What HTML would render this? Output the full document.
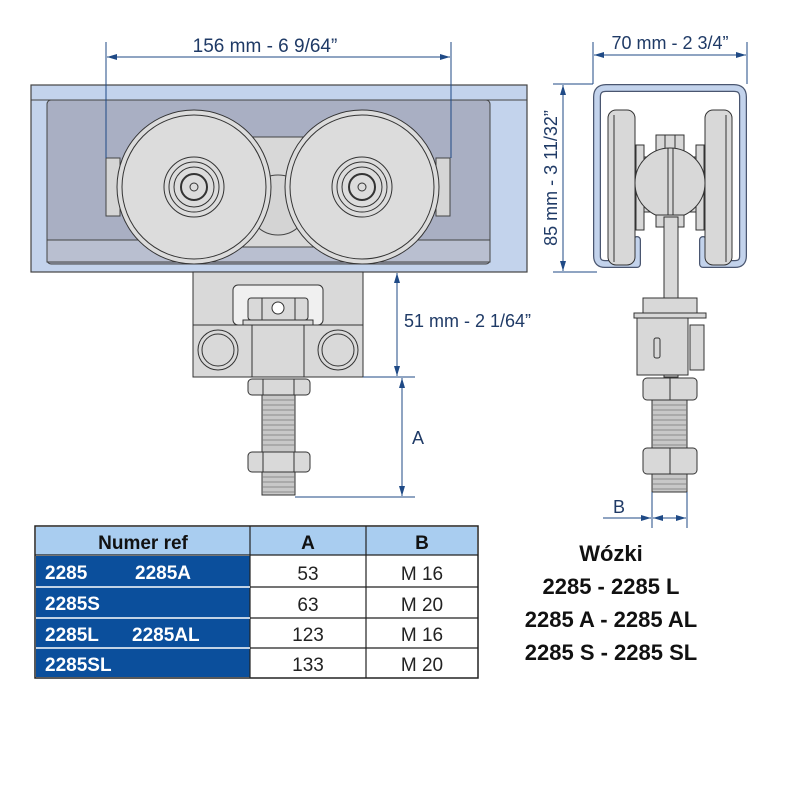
<!DOCTYPE html>
<html><head><meta charset="utf-8"><style>
html,body{margin:0;padding:0;background:#fff;}
svg{display:block;}
</style></head><body>
<svg width="800" height="800" viewBox="0 0 800 800" xmlns="http://www.w3.org/2000/svg" font-family="Liberation Sans, sans-serif">
<defs>
<marker id="ar" viewBox="0 0 10 6" refX="10" refY="3" markerWidth="10" markerHeight="6" orient="auto-start-reverse" markerUnits="userSpaceOnUse"><path d="M0,0 L10,3 L0,6 z" fill="#1f4a86"/></marker>
</defs>
<!-- LEFT VIEW -->
<rect x="31" y="85" width="496" height="187" fill="#c3d3ec" stroke="#444" stroke-width="1.2"/>
<line x1="31" y1="100" x2="527" y2="100" stroke="#444"/>
<rect x="47" y="100" width="443" height="164" rx="4" fill="#a9afc3" stroke="#444"/>
<rect x="47" y="240" width="443" height="22" fill="#b9bfd0" stroke="#444"/>
<rect x="230" y="137" width="100" height="110" fill="#d8d8d8" stroke="#444"/>
<circle cx="278" cy="205" r="30" fill="#d4d4d4" stroke="#444"/>
<rect x="106" y="158" width="14" height="58" fill="#d5d5d5" stroke="#444"/>
<rect x="436" y="158" width="14" height="58" fill="#d5d5d5" stroke="#444"/>
<g stroke="#333" fill="#dcdcdc">
<circle cx="194" cy="187" r="77"/><circle cx="194" cy="187" r="72" fill="none"/>
<circle cx="194" cy="187" r="30" fill="none"/><circle cx="194" cy="187" r="25" fill="none"/><circle cx="194" cy="187" r="20" fill="none"/><circle cx="194" cy="187" r="13" stroke-width="2"/><circle cx="194" cy="187" r="4"/>
<circle cx="362" cy="187" r="77"/><circle cx="362" cy="187" r="72" fill="none"/>
<circle cx="362" cy="187" r="30" fill="none"/><circle cx="362" cy="187" r="25" fill="none"/><circle cx="362" cy="187" r="20" fill="none"/><circle cx="362" cy="187" r="13" stroke-width="2"/><circle cx="362" cy="187" r="4"/>
</g>
<g stroke="#333" fill="#d9d9d9">
<rect x="193" y="272" width="170" height="105"/>
<rect x="233" y="285" width="90" height="40" rx="5" fill="#f0f0f0"/>
<rect x="248" y="298" width="60" height="22" rx="3"/>
<line x1="262" y1="298" x2="262" y2="320"/><line x1="295" y1="298" x2="295" y2="320"/>
<circle cx="278" cy="308" r="6" fill="#fff"/>
<rect x="243" y="320" width="70" height="5"/>
<rect x="193" y="325" width="170" height="52"/>
<rect x="252" y="325" width="52" height="52"/>
<circle cx="218" cy="350" r="20"/><circle cx="218" cy="350" r="16" fill="none"/>
<circle cx="338" cy="350" r="20"/><circle cx="338" cy="350" r="16" fill="none"/>
<rect x="262" y="395" width="33" height="100" fill="#c8c8c8"/>
<rect x="248" y="379" width="62" height="16" rx="4"/>
<line x1="263" y1="379" x2="263" y2="395"/><line x1="294" y1="379" x2="294" y2="395"/>
<rect x="248" y="452" width="62" height="20" rx="4"/>
<line x1="263" y1="452" x2="263" y2="472"/><line x1="294" y1="452" x2="294" y2="472"/>
</g>
<g stroke="#777" stroke-width="0.7">
<path d="M262 400h33M262 405h33M262 410h33M262 415h33M262 420h33M262 425h33M262 430h33M262 435h33M262 440h33M262 445h33M262 477h33M262 482h33M262 487h33M262 492h33"/>
</g>
<!-- left dims -->
<g stroke="#1f4a86" stroke-width="1" fill="none">
<line x1="106" y1="42" x2="106" y2="158"/><line x1="451" y1="42" x2="451" y2="158"/>
<line x1="107" y1="57" x2="450" y2="57" marker-start="url(#ar)" marker-end="url(#ar)"/>
<line x1="397" y1="273" x2="397" y2="376" marker-start="url(#ar)" marker-end="url(#ar)"/>
<line x1="363" y1="377" x2="415" y2="377"/>
<line x1="402" y1="378" x2="402" y2="496" marker-start="url(#ar)" marker-end="url(#ar)"/>
<line x1="295" y1="497" x2="415" y2="497"/>
</g>
<g fill="#1f3a66" font-size="19">
<text x="265" y="52" text-anchor="middle">156 mm - 6 9/64”</text>
<text x="404" y="327" font-size="18">51 mm - 2 1/64”</text>
<text x="412" y="444" font-size="18">A</text>
</g>
<!-- RIGHT VIEW -->
<g fill="none" stroke-linejoin="round" stroke-linecap="round">
<path d="M637 240 V264 H605 Q597 264 597 256 V97 Q597 88 606 88 H734 Q743 88 743 97 V256 Q743 264 735 264 H703 V240" stroke="#4a5670" stroke-width="8"/>
<path d="M637 240 V264 H605 Q597 264 597 256 V97 Q597 88 606 88 H734 Q743 88 743 97 V256 Q743 264 735 264 H703 V240" stroke="#c3d3ec" stroke-width="5.5"/>
</g>
<g stroke="#333" fill="#d8d8d8">
<rect x="608" y="110" width="27" height="155" rx="8"/>
<line x1="614" y1="115" x2="614" y2="262"/>
<rect x="705" y="110" width="27" height="155" rx="8"/>
<line x1="726" y1="115" x2="726" y2="262"/>
<rect x="636" y="145" width="8" height="85"/><rect x="696" y="145" width="8" height="85"/>
<rect x="644" y="157" width="52" height="55"/>
<rect x="656" y="135" width="28" height="25"/>
<line x1="665" y1="135" x2="665" y2="160"/><line x1="675" y1="135" x2="675" y2="160"/>
<circle cx="670" cy="183" r="35"/>
<line x1="668" y1="148" x2="668" y2="218"/><line x1="673" y1="148" x2="673" y2="218"/>
<rect x="656" y="215" width="28" height="12"/>
<rect x="664" y="217" width="14" height="160"/>
<rect x="643" y="298" width="54" height="15"/>
<rect x="634" y="313" width="72" height="5"/>
<rect x="637" y="318" width="51" height="57"/>
<rect x="690" y="325" width="14" height="45"/>
<rect x="654" y="338" width="6" height="20" rx="2"/>
<rect x="652" y="400" width="35" height="92" fill="#c8c8c8"/>
<rect x="643" y="378" width="54" height="22" rx="4"/>
<line x1="670" y1="378" x2="670" y2="400"/>
<rect x="643" y="448" width="54" height="26" rx="4"/>
<line x1="670" y1="448" x2="670" y2="474"/>
</g>
<g stroke="#777" stroke-width="0.7">
<path d="M652 405h35M652 410h35M652 415h35M652 420h35M652 425h35M652 430h35M652 435h35M652 440h35M652 445h35M652 479h35M652 484h35M652 489h35"/>
</g>
<g stroke="#1f4a86" stroke-width="1" fill="none">
<line x1="593" y1="42" x2="593" y2="84"/><line x1="747" y1="42" x2="747" y2="84"/>
<line x1="594" y1="55" x2="746" y2="55" marker-start="url(#ar)" marker-end="url(#ar)"/>
<line x1="553" y1="84" x2="593" y2="84"/><line x1="553" y1="272" x2="597" y2="272"/>
<line x1="563" y1="85" x2="563" y2="271" marker-start="url(#ar)" marker-end="url(#ar)"/>
<line x1="652" y1="492" x2="652" y2="528"/><line x1="687" y1="492" x2="687" y2="528"/>
<line x1="603" y1="518" x2="651" y2="518" marker-end="url(#ar)"/>
<line x1="653" y1="518" x2="686" y2="518" marker-start="url(#ar)" marker-end="url(#ar)"/>
</g>
<g fill="#1f3a66" font-size="18">
<text x="670" y="49" text-anchor="middle">70 mm - 2 3/4”</text>
<text transform="translate(557,178) rotate(-90)" text-anchor="middle">85 mm - 3 11/32”</text>
<text x="613" y="513">B</text>
</g>
<!-- TABLE -->
<g font-size="19">
<rect x="35" y="526" width="443" height="152" fill="#fff" stroke="#222" stroke-width="1.5"/>
<rect x="36" y="527" width="441" height="28" fill="#a9cdf0"/>
<rect x="36" y="556" width="214" height="121" fill="#0b4f9c"/>
<g stroke="#222" stroke-width="1.2">
<line x1="35" y1="555" x2="478" y2="555"/>
<line x1="250" y1="526" x2="250" y2="678"/><line x1="366" y1="526" x2="366" y2="678"/>
<line x1="250" y1="587" x2="478" y2="587"/><line x1="250" y1="618" x2="478" y2="618"/><line x1="250" y1="648" x2="478" y2="648"/>
</g>
<g stroke="#fff" stroke-width="1.5">
<line x1="36" y1="587" x2="250" y2="587"/><line x1="36" y1="618" x2="250" y2="618"/><line x1="36" y1="648" x2="250" y2="648"/>
</g>
<g font-weight="bold" fill="#111" text-anchor="middle">
<text x="143" y="549">Numer ref</text><text x="308" y="549">A</text><text x="422" y="549">B</text>
</g>
<g font-weight="bold" fill="#fff">
<text x="45" y="579">2285</text><text x="135" y="579">2285A</text>
<text x="45" y="610">2285S</text>
<text x="45" y="641">2285L</text><text x="132" y="641">2285AL</text>
<text x="45" y="671">2285SL</text>
</g>
<g fill="#222" text-anchor="middle">
<text x="308" y="580">53</text><text x="422" y="580">M 16</text>
<text x="308" y="611">63</text><text x="422" y="611">M 20</text>
<text x="308" y="641">123</text><text x="422" y="641">M 16</text>
<text x="308" y="671">133</text><text x="422" y="671">M 20</text>
</g>
</g>
<g font-size="22" font-weight="bold" fill="#111" text-anchor="middle">
<text x="611" y="561">Wózki</text>
<text x="611" y="594">2285 - 2285 L</text>
<text x="611" y="627">2285 A - 2285 AL</text>
<text x="611" y="660">2285 S - 2285 SL</text>
</g>
</svg>
</body></html>
